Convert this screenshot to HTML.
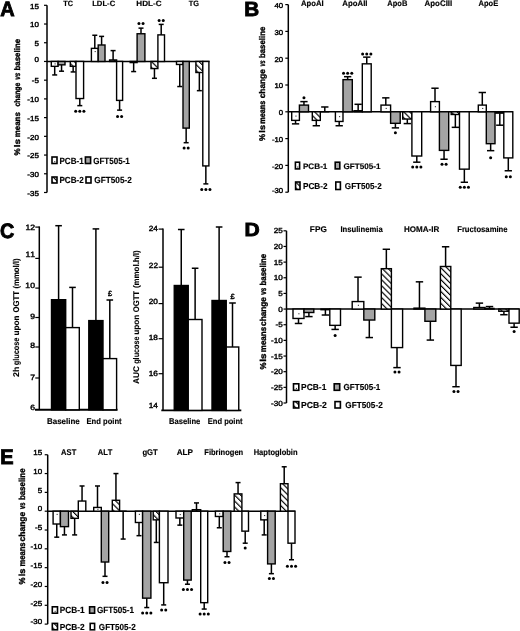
<!DOCTYPE html>
<html><head><meta charset="utf-8"><style>
html,body{margin:0;padding:0;background:#fff;}
body{width:520px;height:631px;overflow:hidden;}
svg{display:block;font-family:"Liberation Sans",sans-serif;font-kerning:none;text-rendering:geometricPrecision;filter:grayscale(1);}
</style></head><body>
<svg width="520" height="631" viewBox="0 0 520 631">
<defs><pattern id="hatch" patternUnits="userSpaceOnUse" width="4.2" height="4.2" patternTransform="rotate(-45)"><rect width="4.2" height="4.2" fill="#fff"/><rect x="0" y="0" width="1.15" height="4.2" fill="#000"/></pattern><pattern id="dots" patternUnits="userSpaceOnUse" x="0.5" y="2.5" width="8" height="8.6"><rect width="8" height="8.6" fill="#fff"/><rect x="3.2" y="0.5" width="1" height="1" fill="#222"/></pattern></defs>
<rect width="520" height="631" fill="#fff"/>
<text x="0.25" y="16.05" font-size="20.79" font-weight="bold" textLength="14.42" lengthAdjust="spacingAndGlyphs" stroke="#000" stroke-width="0.9">A</text>
<line x1="47" y1="5.3" x2="47" y2="192.5" stroke="#000" stroke-width="1.5"/>
<line x1="44" y1="5.3" x2="47" y2="5.3" stroke="#000" stroke-width="1.2"/>
<line x1="44" y1="24.02" x2="47" y2="24.02" stroke="#000" stroke-width="1.2"/>
<line x1="44" y1="42.74" x2="47" y2="42.74" stroke="#000" stroke-width="1.2"/>
<line x1="44" y1="61.46" x2="47" y2="61.46" stroke="#000" stroke-width="1.2"/>
<line x1="44" y1="80.18" x2="47" y2="80.18" stroke="#000" stroke-width="1.2"/>
<line x1="44" y1="98.9" x2="47" y2="98.9" stroke="#000" stroke-width="1.2"/>
<line x1="44" y1="117.62" x2="47" y2="117.62" stroke="#000" stroke-width="1.2"/>
<line x1="44" y1="136.34" x2="47" y2="136.34" stroke="#000" stroke-width="1.2"/>
<line x1="44" y1="155.06" x2="47" y2="155.06" stroke="#000" stroke-width="1.2"/>
<line x1="44" y1="173.78" x2="47" y2="173.78" stroke="#000" stroke-width="1.2"/>
<line x1="44" y1="192.5" x2="47" y2="192.5" stroke="#000" stroke-width="1.2"/>
<line x1="47" y1="61.46" x2="209.5" y2="61.46" stroke="#000" stroke-width="1.4"/>
<text x="38.94" y="8.5" font-size="7.27" font-weight="normal" text-anchor="end" textLength="8.9" lengthAdjust="spacingAndGlyphs" stroke="#000" stroke-width="0.4">15</text>
<text x="38.91" y="27.22" font-size="7.27" font-weight="normal" text-anchor="end" textLength="8.9" lengthAdjust="spacingAndGlyphs" stroke="#000" stroke-width="0.4">10</text>
<text x="38.94" y="45.94" font-size="7.27" font-weight="normal" text-anchor="end" textLength="4.45" lengthAdjust="spacingAndGlyphs" stroke="#000" stroke-width="0.4">5</text>
<text x="38.91" y="62.06" font-size="7.27" font-weight="normal" text-anchor="end" textLength="4.45" lengthAdjust="spacingAndGlyphs" stroke="#000" stroke-width="0.4">0</text>
<text x="38.94" y="83.38" font-size="7.27" font-weight="normal" text-anchor="end" textLength="7.11" lengthAdjust="spacingAndGlyphs" stroke="#000" stroke-width="0.4">-5</text>
<text x="38.91" y="102.1" font-size="7.27" font-weight="normal" text-anchor="end" textLength="11.56" lengthAdjust="spacingAndGlyphs" stroke="#000" stroke-width="0.4">-10</text>
<text x="38.94" y="120.82" font-size="7.27" font-weight="normal" text-anchor="end" textLength="11.56" lengthAdjust="spacingAndGlyphs" stroke="#000" stroke-width="0.4">-15</text>
<text x="38.91" y="139.54" font-size="7.27" font-weight="normal" text-anchor="end" textLength="11.56" lengthAdjust="spacingAndGlyphs" stroke="#000" stroke-width="0.4">-20</text>
<text x="38.94" y="158.26" font-size="7.27" font-weight="normal" text-anchor="end" textLength="11.56" lengthAdjust="spacingAndGlyphs" stroke="#000" stroke-width="0.4">-25</text>
<text x="38.91" y="176.98" font-size="7.27" font-weight="normal" text-anchor="end" textLength="11.56" lengthAdjust="spacingAndGlyphs" stroke="#000" stroke-width="0.4">-30</text>
<text x="38.94" y="195.7" font-size="7.27" font-weight="normal" text-anchor="end" textLength="11.56" lengthAdjust="spacingAndGlyphs" stroke="#000" stroke-width="0.4">-35</text>
<text x="63.22" y="5.5" font-size="7.7" font-weight="bold" textLength="9.78" lengthAdjust="spacingAndGlyphs" stroke="#000" stroke-width="0.15">TC</text>
<text x="92.19" y="5.5" font-size="7.7" font-weight="bold" textLength="23.02" lengthAdjust="spacingAndGlyphs" stroke="#000" stroke-width="0.15">LDL-C</text>
<text x="136.36" y="5.5" font-size="7.7" font-weight="bold" textLength="25.16" lengthAdjust="spacingAndGlyphs" stroke="#000" stroke-width="0.15">HDL-C</text>
<text x="188.72" y="5.5" font-size="7.7" font-weight="bold" textLength="10.24" lengthAdjust="spacingAndGlyphs" stroke="#000" stroke-width="0.15">TG</text>
<line x1="54.7" y1="66.33" x2="54.7" y2="74.94" stroke="#000" stroke-width="1.5"/>
<line x1="52.2" y1="74.94" x2="57.2" y2="74.94" stroke="#000" stroke-width="1.5"/>
<rect x="51.3" y="61.46" width="6.8" height="4.87" fill="#fff" stroke="#000" stroke-width="1.4"/>
<rect x="54.55" y="63.34" width="1.1" height="1.1" fill="#333"/>
<line x1="61.55" y1="64.83" x2="61.55" y2="71.19" stroke="#000" stroke-width="1.5"/>
<line x1="59.05" y1="71.19" x2="64.05" y2="71.19" stroke="#000" stroke-width="1.5"/>
<rect x="58.1" y="61.46" width="6.9" height="3.37" fill="#a4a4a4" stroke="#000" stroke-width="1.4"/>
<line x1="73.15" y1="66.33" x2="73.15" y2="71.94" stroke="#000" stroke-width="1.5"/>
<line x1="70.65" y1="71.94" x2="75.65" y2="71.94" stroke="#000" stroke-width="1.5"/>
<rect x="70.3" y="61.46" width="5.7" height="4.87" fill="url(#hatch)" stroke="#000" stroke-width="1.4"/>
<line x1="79.8" y1="98.53" x2="79.8" y2="105.64" stroke="#000" stroke-width="1.5"/>
<line x1="77.3" y1="105.64" x2="82.3" y2="105.64" stroke="#000" stroke-width="1.5"/>
<rect x="76" y="61.46" width="7.6" height="37.07" fill="#fff" stroke="#000" stroke-width="1.4"/>
<circle cx="75.7" cy="111.3" r="1.5"/>
<circle cx="79.8" cy="111.3" r="1.5"/>
<circle cx="83.9" cy="111.3" r="1.5"/>
<line x1="94.8" y1="48.36" x2="94.8" y2="35.25" stroke="#000" stroke-width="1.5"/>
<line x1="92.3" y1="35.25" x2="97.3" y2="35.25" stroke="#000" stroke-width="1.5"/>
<rect x="91.4" y="48.36" width="6.8" height="13.1" fill="#fff" stroke="#000" stroke-width="1.4"/>
<rect x="94.65" y="51.01" width="1.1" height="1.1" fill="#333"/>
<line x1="101.6" y1="44.99" x2="101.6" y2="36.38" stroke="#000" stroke-width="1.5"/>
<line x1="99.1" y1="36.38" x2="104.1" y2="36.38" stroke="#000" stroke-width="1.5"/>
<rect x="98.2" y="44.99" width="6.8" height="16.47" fill="#a4a4a4" stroke="#000" stroke-width="1.4"/>
<line x1="113.1" y1="59.96" x2="113.1" y2="50.6" stroke="#000" stroke-width="1.5"/>
<line x1="110.6" y1="50.6" x2="115.6" y2="50.6" stroke="#000" stroke-width="1.5"/>
<rect x="109.6" y="59.96" width="7" height="1.5" fill="url(#hatch)" stroke="#000" stroke-width="1.4"/>
<line x1="119.6" y1="100.4" x2="119.6" y2="110.13" stroke="#000" stroke-width="1.5"/>
<line x1="117.1" y1="110.13" x2="122.1" y2="110.13" stroke="#000" stroke-width="1.5"/>
<rect x="116.6" y="61.46" width="6" height="38.94" fill="#fff" stroke="#000" stroke-width="1.4"/>
<circle cx="117.55" cy="116.5" r="1.5"/>
<circle cx="121.65" cy="116.5" r="1.5"/>
<line x1="133.65" y1="62.58" x2="133.65" y2="71.57" stroke="#000" stroke-width="1.5"/>
<line x1="131.15" y1="71.57" x2="136.15" y2="71.57" stroke="#000" stroke-width="1.5"/>
<rect x="130.2" y="61.46" width="6.9" height="1.12" fill="#fff" stroke="#000" stroke-width="1.4"/>
<line x1="141" y1="33.75" x2="141" y2="28.14" stroke="#000" stroke-width="1.5"/>
<line x1="138.5" y1="28.14" x2="143.5" y2="28.14" stroke="#000" stroke-width="1.5"/>
<rect x="137.1" y="33.75" width="7.8" height="27.71" fill="#a4a4a4" stroke="#000" stroke-width="1.4"/>
<circle cx="138.95" cy="23.5" r="1.5"/>
<circle cx="143.05" cy="23.5" r="1.5"/>
<line x1="154.45" y1="68.57" x2="154.45" y2="78.31" stroke="#000" stroke-width="1.5"/>
<line x1="151.95" y1="78.31" x2="156.95" y2="78.31" stroke="#000" stroke-width="1.5"/>
<rect x="151" y="61.46" width="6.9" height="7.11" fill="url(#hatch)" stroke="#000" stroke-width="1.4"/>
<line x1="161.2" y1="34.88" x2="161.2" y2="24.39" stroke="#000" stroke-width="1.5"/>
<line x1="158.7" y1="24.39" x2="163.7" y2="24.39" stroke="#000" stroke-width="1.5"/>
<rect x="157.9" y="34.88" width="6.6" height="26.58" fill="#fff" stroke="#000" stroke-width="1.4"/>
<circle cx="159.15" cy="20.5" r="1.5"/>
<circle cx="163.25" cy="20.5" r="1.5"/>
<line x1="179.75" y1="64.46" x2="179.75" y2="86.54" stroke="#000" stroke-width="1.5"/>
<line x1="177.25" y1="86.54" x2="182.25" y2="86.54" stroke="#000" stroke-width="1.5"/>
<rect x="176.5" y="61.46" width="6.5" height="3" fill="#fff" stroke="#000" stroke-width="1.4"/>
<line x1="186.15" y1="128.1" x2="186.15" y2="142.7" stroke="#000" stroke-width="1.5"/>
<line x1="183.65" y1="142.7" x2="188.65" y2="142.7" stroke="#000" stroke-width="1.5"/>
<rect x="183" y="61.46" width="6.3" height="66.64" fill="#a4a4a4" stroke="#000" stroke-width="1.4"/>
<circle cx="184.1" cy="148" r="1.5"/>
<circle cx="188.2" cy="148" r="1.5"/>
<line x1="199.35" y1="72.5" x2="199.35" y2="90.66" stroke="#000" stroke-width="1.5"/>
<line x1="196.85" y1="90.66" x2="201.85" y2="90.66" stroke="#000" stroke-width="1.5"/>
<rect x="195.9" y="61.46" width="6.9" height="11.04" fill="url(#hatch)" stroke="#000" stroke-width="1.4"/>
<line x1="205.85" y1="165.92" x2="205.85" y2="183.89" stroke="#000" stroke-width="1.5"/>
<line x1="203.35" y1="183.89" x2="208.35" y2="183.89" stroke="#000" stroke-width="1.5"/>
<rect x="202.8" y="61.46" width="6.1" height="104.46" fill="#fff" stroke="#000" stroke-width="1.4"/>
<circle cx="201.75" cy="189.4" r="1.5"/>
<circle cx="205.85" cy="189.4" r="1.5"/>
<circle cx="209.95" cy="189.4" r="1.5"/>
<rect x="52" y="157" width="5" height="6.5" fill="#fff" stroke="#000" stroke-width="1.6"/>
<rect x="54.2" y="161.1" width="1.1" height="1.1" fill="#333"/>
<text x="59.46" y="163.5" font-size="9.02" font-weight="bold" textLength="24.27" lengthAdjust="spacingAndGlyphs" stroke="#000" stroke-width="0.15">PCB-1</text>
<rect x="85.4" y="157" width="5.2" height="6.5" fill="#a4a4a4" stroke="#000" stroke-width="1.6"/>
<text x="93.17" y="163.5" font-size="9.02" font-weight="bold" textLength="36.65" lengthAdjust="spacingAndGlyphs" stroke="#000" stroke-width="0.15">GFT505-1</text>
<rect x="52" y="177" width="5" height="6" fill="url(#hatch)" stroke="#000" stroke-width="1.6"/>
<text x="59.46" y="183" font-size="8.88" font-weight="bold" textLength="24.37" lengthAdjust="spacingAndGlyphs" stroke="#000" stroke-width="0.15">PCB-2</text>
<rect x="86" y="177" width="5" height="6" fill="#fff" stroke="#000" stroke-width="1.6"/>
<text x="94.26" y="183" font-size="8.88" font-weight="bold" textLength="37.57" lengthAdjust="spacingAndGlyphs" stroke="#000" stroke-width="0.15">GFT505-2</text>
<text transform="translate(19.9,155.5) rotate(-90)" x="0" y="0" font-size="8.14" font-weight="bold" textLength="7.11" lengthAdjust="spacingAndGlyphs" stroke="#000" stroke-width="0.35">%</text>
<text transform="translate(19.9,147.2) rotate(-90)" x="0" y="0" font-size="8.14" font-weight="bold" textLength="8.3" lengthAdjust="spacingAndGlyphs" stroke="#000" stroke-width="0.35">ls</text>
<text transform="translate(19.9,137.32) rotate(-90)" x="0" y="0" font-size="8.14" font-weight="bold" textLength="25.15" lengthAdjust="spacingAndGlyphs" stroke="#000" stroke-width="0.35">means</text>
<text transform="translate(19.9,106.57) rotate(-90)" x="0" y="0" font-size="8.14" font-weight="bold" textLength="23.9" lengthAdjust="spacingAndGlyphs" stroke="#000" stroke-width="0.35">change</text>
<text transform="translate(19.9,79.82) rotate(-90)" x="0" y="0" font-size="8.14" font-weight="bold" font-style="italic" textLength="6.98" lengthAdjust="spacingAndGlyphs" stroke="#000" stroke-width="0.35">vs</text>
<text transform="translate(19.9,70.52) rotate(-90)" x="0" y="0" font-size="8.14" font-weight="bold" textLength="31.69" lengthAdjust="spacingAndGlyphs" stroke="#000" stroke-width="0.35">baseline</text>
<text x="244.27" y="15.75" font-size="20.49" font-weight="bold" textLength="14.92" lengthAdjust="spacingAndGlyphs" stroke="#000" stroke-width="0.9">B</text>
<line x1="288.3" y1="4.6" x2="288.3" y2="192.2" stroke="#000" stroke-width="1.5"/>
<line x1="285.3" y1="4.6" x2="288.3" y2="4.6" stroke="#000" stroke-width="1.2"/>
<line x1="285.3" y1="31.4" x2="288.3" y2="31.4" stroke="#000" stroke-width="1.2"/>
<line x1="285.3" y1="58.2" x2="288.3" y2="58.2" stroke="#000" stroke-width="1.2"/>
<line x1="285.3" y1="85" x2="288.3" y2="85" stroke="#000" stroke-width="1.2"/>
<line x1="285.3" y1="111.8" x2="288.3" y2="111.8" stroke="#000" stroke-width="1.2"/>
<line x1="285.3" y1="138.6" x2="288.3" y2="138.6" stroke="#000" stroke-width="1.2"/>
<line x1="285.3" y1="165.4" x2="288.3" y2="165.4" stroke="#000" stroke-width="1.2"/>
<line x1="285.3" y1="192.2" x2="288.3" y2="192.2" stroke="#000" stroke-width="1.2"/>
<line x1="288.3" y1="111.8" x2="512.8" y2="111.8" stroke="#000" stroke-width="1.4"/>
<text x="283.21" y="7.94" font-size="7.1" font-weight="normal" text-anchor="end" textLength="8.69" lengthAdjust="spacingAndGlyphs" stroke="#000" stroke-width="0.4">40</text>
<text x="283.21" y="34.74" font-size="7.1" font-weight="normal" text-anchor="end" textLength="8.69" lengthAdjust="spacingAndGlyphs" stroke="#000" stroke-width="0.4">30</text>
<text x="283.21" y="61.54" font-size="7.1" font-weight="normal" text-anchor="end" textLength="8.69" lengthAdjust="spacingAndGlyphs" stroke="#000" stroke-width="0.4">20</text>
<text x="283.21" y="88.34" font-size="7.1" font-weight="normal" text-anchor="end" textLength="8.69" lengthAdjust="spacingAndGlyphs" stroke="#000" stroke-width="0.4">10</text>
<text x="283.21" y="115.14" font-size="7.1" font-weight="normal" text-anchor="end" textLength="4.34" lengthAdjust="spacingAndGlyphs" stroke="#000" stroke-width="0.4">0</text>
<text x="283.21" y="141.94" font-size="7.1" font-weight="normal" text-anchor="end" textLength="11.29" lengthAdjust="spacingAndGlyphs" stroke="#000" stroke-width="0.4">-10</text>
<text x="283.21" y="168.74" font-size="7.1" font-weight="normal" text-anchor="end" textLength="11.29" lengthAdjust="spacingAndGlyphs" stroke="#000" stroke-width="0.4">-20</text>
<text x="283.21" y="192.74" font-size="7.1" font-weight="normal" text-anchor="end" textLength="11.29" lengthAdjust="spacingAndGlyphs" stroke="#000" stroke-width="0.4">-30</text>
<text x="301.06" y="6.2" font-size="8.14" font-weight="bold" textLength="22.71" lengthAdjust="spacingAndGlyphs" stroke="#000" stroke-width="0.15">ApoAI</text>
<text x="342.31" y="6.2" font-size="8.14" font-weight="bold" textLength="25.22" lengthAdjust="spacingAndGlyphs" stroke="#000" stroke-width="0.15">ApoAII</text>
<text x="387.31" y="6.2" font-size="8.14" font-weight="bold" textLength="20.03" lengthAdjust="spacingAndGlyphs" stroke="#000" stroke-width="0.15">ApoB</text>
<text x="424.6" y="6.2" font-size="8.14" font-weight="bold" textLength="27.62" lengthAdjust="spacingAndGlyphs" stroke="#000" stroke-width="0.15">ApoCIII</text>
<text x="478.51" y="6.2" font-size="8.14" font-weight="bold" textLength="19.68" lengthAdjust="spacingAndGlyphs" stroke="#000" stroke-width="0.15">ApoE</text>
<line x1="295.55" y1="120.38" x2="295.55" y2="123.86" stroke="#000" stroke-width="1.5"/>
<line x1="291.9" y1="123.86" x2="299.2" y2="123.86" stroke="#000" stroke-width="1.5"/>
<rect x="291.7" y="111.8" width="7.7" height="8.58" fill="#fff" stroke="#000" stroke-width="1.4"/>
<rect x="295.4" y="115.54" width="1.1" height="1.1" fill="#333"/>
<line x1="303.95" y1="105.1" x2="303.95" y2="101.62" stroke="#000" stroke-width="1.5"/>
<line x1="300.3" y1="101.62" x2="307.6" y2="101.62" stroke="#000" stroke-width="1.5"/>
<rect x="299.4" y="105.1" width="9.1" height="6.7" fill="#a4a4a4" stroke="#000" stroke-width="1.4"/>
<circle cx="303.95" cy="97.7" r="1.5"/>
<line x1="316.3" y1="120.38" x2="316.3" y2="125.74" stroke="#000" stroke-width="1.5"/>
<line x1="312.65" y1="125.74" x2="319.95" y2="125.74" stroke="#000" stroke-width="1.5"/>
<rect x="312.3" y="111.8" width="8" height="8.58" fill="url(#hatch)" stroke="#000" stroke-width="1.4"/>
<line x1="324.8" y1="111.8" x2="324.8" y2="106.98" stroke="#000" stroke-width="1.5"/>
<line x1="321.15" y1="106.98" x2="328.45" y2="106.98" stroke="#000" stroke-width="1.5"/>
<line x1="320.3" y1="111.8" x2="329.3" y2="111.8" stroke="#000" stroke-width="1.4"/>
<line x1="339.2" y1="121.45" x2="339.2" y2="125.74" stroke="#000" stroke-width="1.5"/>
<line x1="335.55" y1="125.74" x2="342.85" y2="125.74" stroke="#000" stroke-width="1.5"/>
<rect x="335.4" y="111.8" width="7.6" height="9.65" fill="#fff" stroke="#000" stroke-width="1.4"/>
<rect x="339.05" y="116.07" width="1.1" height="1.1" fill="#333"/>
<line x1="347.65" y1="79.64" x2="347.65" y2="76.69" stroke="#000" stroke-width="1.5"/>
<line x1="344" y1="76.69" x2="351.3" y2="76.69" stroke="#000" stroke-width="1.5"/>
<rect x="343" y="79.64" width="9.3" height="32.16" fill="#a4a4a4" stroke="#000" stroke-width="1.4"/>
<circle cx="343.55" cy="73.3" r="1.5"/>
<circle cx="347.65" cy="73.3" r="1.5"/>
<circle cx="351.75" cy="73.3" r="1.5"/>
<line x1="358.15" y1="110.73" x2="358.15" y2="104.3" stroke="#000" stroke-width="1.5"/>
<line x1="354.5" y1="104.3" x2="361.8" y2="104.3" stroke="#000" stroke-width="1.5"/>
<rect x="354" y="110.73" width="8.3" height="1.07" fill="url(#hatch)" stroke="#000" stroke-width="1.4"/>
<line x1="366.75" y1="63.83" x2="366.75" y2="57.13" stroke="#000" stroke-width="1.5"/>
<line x1="363.1" y1="57.13" x2="370.4" y2="57.13" stroke="#000" stroke-width="1.5"/>
<rect x="362.3" y="63.83" width="8.9" height="47.97" fill="#fff" stroke="#000" stroke-width="1.4"/>
<circle cx="362.65" cy="54" r="1.5"/>
<circle cx="366.75" cy="54" r="1.5"/>
<circle cx="370.85" cy="54" r="1.5"/>
<line x1="385.8" y1="105.1" x2="385.8" y2="97.86" stroke="#000" stroke-width="1.5"/>
<line x1="382.15" y1="97.86" x2="389.45" y2="97.86" stroke="#000" stroke-width="1.5"/>
<rect x="381" y="105.1" width="9.6" height="6.7" fill="#fff" stroke="#000" stroke-width="1.4"/>
<rect x="385.65" y="107.9" width="1.1" height="1.1" fill="#333"/>
<line x1="395.4" y1="123.32" x2="395.4" y2="127.88" stroke="#000" stroke-width="1.5"/>
<line x1="391.75" y1="127.88" x2="399.05" y2="127.88" stroke="#000" stroke-width="1.5"/>
<rect x="390.6" y="111.8" width="9.6" height="11.52" fill="#a4a4a4" stroke="#000" stroke-width="1.4"/>
<circle cx="395.4" cy="132.7" r="1.5"/>
<line x1="407.3" y1="119.04" x2="407.3" y2="123.59" stroke="#000" stroke-width="1.5"/>
<line x1="403.65" y1="123.59" x2="410.95" y2="123.59" stroke="#000" stroke-width="1.5"/>
<rect x="402.7" y="111.8" width="9.2" height="7.24" fill="url(#hatch)" stroke="#000" stroke-width="1.4"/>
<line x1="416.8" y1="156.02" x2="416.8" y2="162.18" stroke="#000" stroke-width="1.5"/>
<line x1="413.15" y1="162.18" x2="420.45" y2="162.18" stroke="#000" stroke-width="1.5"/>
<rect x="411.9" y="111.8" width="9.8" height="44.22" fill="#fff" stroke="#000" stroke-width="1.4"/>
<circle cx="412.7" cy="166.9" r="1.5"/>
<circle cx="416.8" cy="166.9" r="1.5"/>
<circle cx="420.9" cy="166.9" r="1.5"/>
<line x1="435" y1="101.62" x2="435" y2="88.22" stroke="#000" stroke-width="1.5"/>
<line x1="431.35" y1="88.22" x2="438.65" y2="88.22" stroke="#000" stroke-width="1.5"/>
<rect x="430.6" y="101.62" width="8.8" height="10.18" fill="#fff" stroke="#000" stroke-width="1.4"/>
<rect x="434.85" y="106.16" width="1.1" height="1.1" fill="#333"/>
<line x1="444.05" y1="150.39" x2="444.05" y2="159.24" stroke="#000" stroke-width="1.5"/>
<line x1="440.4" y1="159.24" x2="447.7" y2="159.24" stroke="#000" stroke-width="1.5"/>
<rect x="439.4" y="111.8" width="9.3" height="38.59" fill="#a4a4a4" stroke="#000" stroke-width="1.4"/>
<circle cx="442" cy="164.2" r="1.5"/>
<circle cx="446.1" cy="164.2" r="1.5"/>
<line x1="455.35" y1="114.48" x2="455.35" y2="127.34" stroke="#000" stroke-width="1.5"/>
<line x1="451.7" y1="127.34" x2="459" y2="127.34" stroke="#000" stroke-width="1.5"/>
<rect x="451.2" y="111.8" width="8.3" height="2.68" fill="url(#hatch)" stroke="#000" stroke-width="1.4"/>
<line x1="464.35" y1="169.15" x2="464.35" y2="182.28" stroke="#000" stroke-width="1.5"/>
<line x1="460.7" y1="182.28" x2="468" y2="182.28" stroke="#000" stroke-width="1.5"/>
<rect x="459.5" y="111.8" width="9.7" height="57.35" fill="#fff" stroke="#000" stroke-width="1.4"/>
<circle cx="460.25" cy="187.2" r="1.5"/>
<circle cx="464.35" cy="187.2" r="1.5"/>
<circle cx="468.45" cy="187.2" r="1.5"/>
<line x1="482.3" y1="105.1" x2="482.3" y2="92.5" stroke="#000" stroke-width="1.5"/>
<line x1="478.65" y1="92.5" x2="485.95" y2="92.5" stroke="#000" stroke-width="1.5"/>
<rect x="478.3" y="105.1" width="8" height="6.7" fill="#fff" stroke="#000" stroke-width="1.4"/>
<rect x="482.15" y="107.9" width="1.1" height="1.1" fill="#333"/>
<line x1="490.65" y1="143.69" x2="490.65" y2="150.66" stroke="#000" stroke-width="1.5"/>
<line x1="487" y1="150.66" x2="494.3" y2="150.66" stroke="#000" stroke-width="1.5"/>
<rect x="486.3" y="111.8" width="8.7" height="31.89" fill="#a4a4a4" stroke="#000" stroke-width="1.4"/>
<circle cx="490.65" cy="157.7" r="1.5"/>
<line x1="499.8" y1="113.14" x2="499.8" y2="125.2" stroke="#000" stroke-width="1.5"/>
<line x1="496.15" y1="125.2" x2="503.45" y2="125.2" stroke="#000" stroke-width="1.5"/>
<rect x="495.8" y="111.8" width="8" height="1.34" fill="url(#hatch)" stroke="#000" stroke-width="1.4"/>
<line x1="508.3" y1="157.9" x2="508.3" y2="170.76" stroke="#000" stroke-width="1.5"/>
<line x1="504.65" y1="170.76" x2="511.95" y2="170.76" stroke="#000" stroke-width="1.5"/>
<rect x="503.8" y="111.8" width="9" height="46.1" fill="#fff" stroke="#000" stroke-width="1.4"/>
<circle cx="506.25" cy="176.8" r="1.5"/>
<circle cx="510.35" cy="176.8" r="1.5"/>
<rect x="295.4" y="162.2" width="4.2" height="6.7" fill="#fff" stroke="#000" stroke-width="1.6"/>
<rect x="297.2" y="166.5" width="1.1" height="1.1" fill="#333"/>
<text x="302.95" y="168.5" font-size="8.02" font-weight="bold" textLength="24.47" lengthAdjust="spacingAndGlyphs" stroke="#000" stroke-width="0.15">PCB-1</text>
<rect x="335.2" y="162.2" width="4.6" height="6.7" fill="#a4a4a4" stroke="#000" stroke-width="1.6"/>
<text x="343.57" y="168.5" font-size="8.02" font-weight="bold" textLength="36.86" lengthAdjust="spacingAndGlyphs" stroke="#000" stroke-width="0.15">GFT505-1</text>
<rect x="295.6" y="182" width="4.4" height="7.5" fill="url(#hatch)" stroke="#000" stroke-width="1.6"/>
<text x="302.95" y="188.5" font-size="8.59" font-weight="bold" textLength="24.58" lengthAdjust="spacingAndGlyphs" stroke="#000" stroke-width="0.15">PCB-2</text>
<rect x="335.8" y="182" width="4.6" height="7.5" fill="#fff" stroke="#000" stroke-width="1.6"/>
<text x="344.87" y="188.5" font-size="8.59" font-weight="bold" textLength="36.96" lengthAdjust="spacingAndGlyphs" stroke="#000" stroke-width="0.15">GFT505-2</text>
<text transform="translate(264.8,140.9) rotate(-90)" x="0" y="0" font-size="8.28" font-weight="bold" textLength="7.11" lengthAdjust="spacingAndGlyphs" stroke="#000" stroke-width="0.35">%</text>
<text transform="translate(264.8,132.65) rotate(-90)" x="0" y="0" font-size="8.28" font-weight="bold" textLength="7.73" lengthAdjust="spacingAndGlyphs" stroke="#000" stroke-width="0.35">ls</text>
<text transform="translate(264.8,123.68) rotate(-90)" x="0" y="0" font-size="8.28" font-weight="bold" textLength="22.87" lengthAdjust="spacingAndGlyphs" stroke="#000" stroke-width="0.35">means</text>
<text transform="translate(264.8,98.32) rotate(-90)" x="0" y="0" font-size="8.28" font-weight="bold" textLength="29.11" lengthAdjust="spacingAndGlyphs" stroke="#000" stroke-width="0.35">change</text>
<text transform="translate(264.8,66.52) rotate(-90)" x="0" y="0" font-size="8.28" font-weight="bold" font-style="italic" textLength="6.25" lengthAdjust="spacingAndGlyphs" stroke="#000" stroke-width="0.35">vs</text>
<text transform="translate(264.8,58.02) rotate(-90)" x="0" y="0" font-size="8.28" font-weight="bold" textLength="31.28" lengthAdjust="spacingAndGlyphs" stroke="#000" stroke-width="0.35">baseline</text>
<text x="-0.06" y="238.45" font-size="20.77" font-weight="bold" textLength="14.25" lengthAdjust="spacingAndGlyphs" stroke="#000" stroke-width="0.9">C</text>
<line x1="39.3" y1="226.4" x2="39.3" y2="409.8" stroke="#000" stroke-width="1.5"/>
<line x1="35.3" y1="227.1" x2="39.3" y2="227.1" stroke="#000" stroke-width="1.2"/>
<line x1="35.3" y1="258.4" x2="39.3" y2="258.4" stroke="#000" stroke-width="1.2"/>
<line x1="35.3" y1="288.1" x2="39.3" y2="288.1" stroke="#000" stroke-width="1.2"/>
<line x1="35.3" y1="317.5" x2="39.3" y2="317.5" stroke="#000" stroke-width="1.2"/>
<line x1="35.3" y1="347" x2="39.3" y2="347" stroke="#000" stroke-width="1.2"/>
<line x1="35.3" y1="378" x2="39.3" y2="378" stroke="#000" stroke-width="1.2"/>
<line x1="35" y1="409.8" x2="117.5" y2="409.8" stroke="#000" stroke-width="1.9"/>
<text x="35.03" y="229.75" font-size="7.7" font-weight="normal" text-anchor="end" textLength="9.59" lengthAdjust="spacingAndGlyphs" stroke="#000" stroke-width="0.4">12</text>
<text x="35.02" y="257.15" font-size="7.7" font-weight="normal" text-anchor="end" textLength="9.59" lengthAdjust="spacingAndGlyphs" stroke="#000" stroke-width="0.4">11</text>
<text x="34.94" y="287.95" font-size="7.7" font-weight="normal" text-anchor="end" textLength="9.59" lengthAdjust="spacingAndGlyphs" stroke="#000" stroke-width="0.4">10</text>
<text x="35.01" y="318.85" font-size="7.7" font-weight="normal" text-anchor="end" textLength="4.8" lengthAdjust="spacingAndGlyphs" stroke="#000" stroke-width="0.4">9</text>
<text x="34.97" y="348.05" font-size="7.7" font-weight="normal" text-anchor="end" textLength="4.8" lengthAdjust="spacingAndGlyphs" stroke="#000" stroke-width="0.4">8</text>
<text x="35.03" y="379.65" font-size="7.7" font-weight="normal" text-anchor="end" textLength="4.8" lengthAdjust="spacingAndGlyphs" stroke="#000" stroke-width="0.4">7</text>
<text x="34.98" y="409.95" font-size="7.7" font-weight="normal" text-anchor="end" textLength="4.8" lengthAdjust="spacingAndGlyphs" stroke="#000" stroke-width="0.4">6</text>
<line x1="58.6" y1="299.7" x2="58.6" y2="225.7" stroke="#000" stroke-width="1.5"/>
<line x1="55.3" y1="225.7" x2="61.9" y2="225.7" stroke="#000" stroke-width="1.5"/>
<rect x="51.5" y="299.7" width="14.2" height="110.1" fill="#000" stroke="#000" stroke-width="1.4"/>
<line x1="72.5" y1="327.6" x2="72.5" y2="287.4" stroke="#000" stroke-width="1.5"/>
<line x1="69.2" y1="287.4" x2="75.8" y2="287.4" stroke="#000" stroke-width="1.5"/>
<rect x="65.7" y="327.6" width="13.6" height="82.2" fill="#fff" stroke="#000" stroke-width="1.4"/>
<line x1="95.9" y1="320.6" x2="95.9" y2="228.9" stroke="#000" stroke-width="1.5"/>
<line x1="92.6" y1="228.9" x2="99.2" y2="228.9" stroke="#000" stroke-width="1.5"/>
<rect x="88.8" y="320.6" width="14.2" height="89.2" fill="#000" stroke="#000" stroke-width="1.4"/>
<line x1="109.8" y1="358.6" x2="109.8" y2="300" stroke="#000" stroke-width="1.5"/>
<line x1="106.5" y1="300" x2="113.1" y2="300" stroke="#000" stroke-width="1.5"/>
<rect x="103" y="358.6" width="13.6" height="51.2" fill="#fff" stroke="#000" stroke-width="1.4"/>
<text x="107.92" y="295.9" font-size="7.59" font-weight="bold" textLength="4.15" lengthAdjust="spacingAndGlyphs" stroke="#000" stroke-width="0.3">£</text>
<text x="46.97" y="423.6" font-size="8.28" font-weight="bold" textLength="32.81" lengthAdjust="spacingAndGlyphs" stroke="#000" stroke-width="0.15">Baseline</text>
<text x="86.49" y="423.6" font-size="8.28" font-weight="bold" textLength="35.1" lengthAdjust="spacingAndGlyphs" stroke="#000" stroke-width="0.15">End point</text>
<text transform="translate(19.3,377.01) rotate(-90)" x="0" y="0" font-size="8.42" font-weight="bold" textLength="10.36" lengthAdjust="spacingAndGlyphs" stroke="#000" stroke-width="0.1">2h</text>
<text transform="translate(19.3,365.3) rotate(-90)" x="0" y="0" font-size="8.42" font-weight="bold" textLength="27.75" lengthAdjust="spacingAndGlyphs" stroke="#000" stroke-width="0.1">glucose</text>
<text transform="translate(19.3,335.51) rotate(-90)" x="0" y="0" font-size="8.42" font-weight="bold" textLength="19.91" lengthAdjust="spacingAndGlyphs" stroke="#000" stroke-width="0.1">upon</text>
<text transform="translate(19.3,312.52) rotate(-90)" x="0" y="0" font-size="8.42" font-weight="bold" textLength="21.4" lengthAdjust="spacingAndGlyphs" stroke="#000" stroke-width="0.1">OGTT</text>
<text transform="translate(19.3,288.49) rotate(-90)" x="0" y="0" font-size="8.42" font-weight="bold" textLength="30.07" lengthAdjust="spacingAndGlyphs" stroke="#000" stroke-width="0.1">(mmol/l)</text>
<line x1="163" y1="228.4" x2="163" y2="410.4" stroke="#000" stroke-width="1.5"/>
<line x1="158.6" y1="229.1" x2="163" y2="229.1" stroke="#000" stroke-width="1.2"/>
<line x1="158.6" y1="267.2" x2="163" y2="267.2" stroke="#000" stroke-width="1.2"/>
<line x1="158.6" y1="303.6" x2="163" y2="303.6" stroke="#000" stroke-width="1.2"/>
<line x1="158.6" y1="338.7" x2="163" y2="338.7" stroke="#000" stroke-width="1.2"/>
<line x1="158.6" y1="373.7" x2="163" y2="373.7" stroke="#000" stroke-width="1.2"/>
<line x1="161.3" y1="410.4" x2="241.3" y2="410.4" stroke="#000" stroke-width="1.9"/>
<text x="157.84" y="231.18" font-size="7.5" font-weight="normal" text-anchor="end" textLength="9.18" lengthAdjust="spacingAndGlyphs" stroke="#000" stroke-width="0.4">24</text>
<text x="158.01" y="268.48" font-size="7.5" font-weight="normal" text-anchor="end" textLength="9.18" lengthAdjust="spacingAndGlyphs" stroke="#000" stroke-width="0.4">22</text>
<text x="157.92" y="304.38" font-size="7.5" font-weight="normal" text-anchor="end" textLength="9.18" lengthAdjust="spacingAndGlyphs" stroke="#000" stroke-width="0.4">20</text>
<text x="157.96" y="340.28" font-size="7.5" font-weight="normal" text-anchor="end" textLength="9.18" lengthAdjust="spacingAndGlyphs" stroke="#000" stroke-width="0.4">18</text>
<text x="157.96" y="375.58" font-size="7.5" font-weight="normal" text-anchor="end" textLength="9.18" lengthAdjust="spacingAndGlyphs" stroke="#000" stroke-width="0.4">16</text>
<text x="157.84" y="407.58" font-size="7.5" font-weight="normal" text-anchor="end" textLength="9.18" lengthAdjust="spacingAndGlyphs" stroke="#000" stroke-width="0.4">14</text>
<line x1="181.25" y1="285.5" x2="181.25" y2="229.5" stroke="#000" stroke-width="1.5"/>
<line x1="177.95" y1="229.5" x2="184.55" y2="229.5" stroke="#000" stroke-width="1.5"/>
<rect x="174.25" y="285.5" width="14" height="124.9" fill="#000" stroke="#000" stroke-width="1.4"/>
<line x1="195.12" y1="319.5" x2="195.12" y2="268.25" stroke="#000" stroke-width="1.5"/>
<line x1="191.82" y1="268.25" x2="198.43" y2="268.25" stroke="#000" stroke-width="1.5"/>
<rect x="188.25" y="319.5" width="13.75" height="90.9" fill="#fff" stroke="#000" stroke-width="1.4"/>
<line x1="219.12" y1="300.5" x2="219.12" y2="227" stroke="#000" stroke-width="1.5"/>
<line x1="215.82" y1="227" x2="222.43" y2="227" stroke="#000" stroke-width="1.5"/>
<rect x="212" y="300.5" width="14.25" height="109.9" fill="#000" stroke="#000" stroke-width="1.4"/>
<line x1="232.5" y1="347" x2="232.5" y2="303" stroke="#000" stroke-width="1.5"/>
<line x1="229.2" y1="303" x2="235.8" y2="303" stroke="#000" stroke-width="1.5"/>
<rect x="226.25" y="347" width="12.5" height="63.4" fill="#fff" stroke="#000" stroke-width="1.4"/>
<text x="230.52" y="298.8" font-size="7.59" font-weight="bold" textLength="4.26" lengthAdjust="spacingAndGlyphs" stroke="#000" stroke-width="0.3">£</text>
<text x="168.99" y="423.6" font-size="8.28" font-weight="bold" textLength="31.27" lengthAdjust="spacingAndGlyphs" stroke="#000" stroke-width="0.15">Baseline</text>
<text x="207.8" y="423.6" font-size="8.28" font-weight="bold" textLength="34.8" lengthAdjust="spacingAndGlyphs" stroke="#000" stroke-width="0.15">End point</text>
<text transform="translate(139.3,383.9) rotate(-90)" x="0" y="0" font-size="8.28" font-weight="bold" textLength="17.83" lengthAdjust="spacingAndGlyphs" stroke="#000" stroke-width="0.1">AUC</text>
<text transform="translate(139.3,363.8) rotate(-90)" x="0" y="0" font-size="8.28" font-weight="bold" textLength="27.34" lengthAdjust="spacingAndGlyphs" stroke="#000" stroke-width="0.1">glucose</text>
<text transform="translate(139.3,334.71) rotate(-90)" x="0" y="0" font-size="8.28" font-weight="bold" textLength="20.02" lengthAdjust="spacingAndGlyphs" stroke="#000" stroke-width="0.1">upon</text>
<text transform="translate(139.3,312.32) rotate(-90)" x="0" y="0" font-size="8.28" font-weight="bold" textLength="21.4" lengthAdjust="spacingAndGlyphs" stroke="#000" stroke-width="0.1">OGTT</text>
<text transform="translate(139.3,288.09) rotate(-90)" x="0" y="0" font-size="8.28" font-weight="bold" textLength="37.79" lengthAdjust="spacingAndGlyphs" stroke="#000" stroke-width="0.1">(mmol.h/l)</text>
<text x="244.44" y="236.45" font-size="18.9" font-weight="bold" textLength="15.19" lengthAdjust="spacingAndGlyphs" stroke="#000" stroke-width="0.9">D</text>
<line x1="286.5" y1="230.8" x2="286.5" y2="403" stroke="#000" stroke-width="1.5"/>
<line x1="283.5" y1="230.8" x2="286.5" y2="230.8" stroke="#000" stroke-width="1.2"/>
<line x1="283.5" y1="246.45" x2="286.5" y2="246.45" stroke="#000" stroke-width="1.2"/>
<line x1="283.5" y1="262.11" x2="286.5" y2="262.11" stroke="#000" stroke-width="1.2"/>
<line x1="283.5" y1="277.76" x2="286.5" y2="277.76" stroke="#000" stroke-width="1.2"/>
<line x1="283.5" y1="293.42" x2="286.5" y2="293.42" stroke="#000" stroke-width="1.2"/>
<line x1="283.5" y1="309.07" x2="286.5" y2="309.07" stroke="#000" stroke-width="1.2"/>
<line x1="283.5" y1="324.73" x2="286.5" y2="324.73" stroke="#000" stroke-width="1.2"/>
<line x1="283.5" y1="340.38" x2="286.5" y2="340.38" stroke="#000" stroke-width="1.2"/>
<line x1="283.5" y1="356.04" x2="286.5" y2="356.04" stroke="#000" stroke-width="1.2"/>
<line x1="283.5" y1="371.69" x2="286.5" y2="371.69" stroke="#000" stroke-width="1.2"/>
<line x1="283.5" y1="387.35" x2="286.5" y2="387.35" stroke="#000" stroke-width="1.2"/>
<line x1="283.5" y1="403" x2="286.5" y2="403" stroke="#000" stroke-width="1.2"/>
<line x1="286.5" y1="309.07" x2="519.5" y2="309.07" stroke="#000" stroke-width="1.4"/>
<text x="282.74" y="233.35" font-size="7.4" font-weight="normal" text-anchor="end" textLength="9.05" lengthAdjust="spacingAndGlyphs" stroke="#000" stroke-width="0.4">25</text>
<text x="282.72" y="249" font-size="7.4" font-weight="normal" text-anchor="end" textLength="9.05" lengthAdjust="spacingAndGlyphs" stroke="#000" stroke-width="0.4">20</text>
<text x="282.74" y="264.65" font-size="7.4" font-weight="normal" text-anchor="end" textLength="9.05" lengthAdjust="spacingAndGlyphs" stroke="#000" stroke-width="0.4">15</text>
<text x="282.72" y="280.31" font-size="7.4" font-weight="normal" text-anchor="end" textLength="9.05" lengthAdjust="spacingAndGlyphs" stroke="#000" stroke-width="0.4">10</text>
<text x="282.74" y="295.96" font-size="7.4" font-weight="normal" text-anchor="end" textLength="4.53" lengthAdjust="spacingAndGlyphs" stroke="#000" stroke-width="0.4">5</text>
<text x="282.72" y="311.62" font-size="7.4" font-weight="normal" text-anchor="end" textLength="4.53" lengthAdjust="spacingAndGlyphs" stroke="#000" stroke-width="0.4">0</text>
<text x="282.74" y="327.27" font-size="7.4" font-weight="normal" text-anchor="end" textLength="7.24" lengthAdjust="spacingAndGlyphs" stroke="#000" stroke-width="0.4">-5</text>
<text x="282.72" y="342.93" font-size="7.4" font-weight="normal" text-anchor="end" textLength="11.76" lengthAdjust="spacingAndGlyphs" stroke="#000" stroke-width="0.4">-10</text>
<text x="282.74" y="358.58" font-size="7.4" font-weight="normal" text-anchor="end" textLength="11.76" lengthAdjust="spacingAndGlyphs" stroke="#000" stroke-width="0.4">-15</text>
<text x="282.72" y="374.24" font-size="7.4" font-weight="normal" text-anchor="end" textLength="11.76" lengthAdjust="spacingAndGlyphs" stroke="#000" stroke-width="0.4">-20</text>
<text x="282.74" y="389.89" font-size="7.4" font-weight="normal" text-anchor="end" textLength="11.76" lengthAdjust="spacingAndGlyphs" stroke="#000" stroke-width="0.4">-25</text>
<text x="282.72" y="405.55" font-size="7.4" font-weight="normal" text-anchor="end" textLength="11.76" lengthAdjust="spacingAndGlyphs" stroke="#000" stroke-width="0.4">-30</text>
<text x="309.85" y="232.2" font-size="8.29" font-weight="bold" textLength="16.96" lengthAdjust="spacingAndGlyphs" stroke="#000" stroke-width="0.15">FPG</text>
<text x="340.49" y="232.2" font-size="8.29" font-weight="bold" textLength="42.16" lengthAdjust="spacingAndGlyphs" stroke="#000" stroke-width="0.15">Insulinemia</text>
<text x="404.06" y="232.2" font-size="8.29" font-weight="bold" textLength="35.3" lengthAdjust="spacingAndGlyphs" stroke="#000" stroke-width="0.15">HOMA-IR</text>
<text x="457.19" y="232.2" font-size="8.29" font-weight="bold" textLength="50.38" lengthAdjust="spacingAndGlyphs" stroke="#000" stroke-width="0.15">Fructosamine</text>
<line x1="298.5" y1="318.47" x2="298.5" y2="323.47" stroke="#000" stroke-width="1.5"/>
<line x1="294.8" y1="323.47" x2="302.2" y2="323.47" stroke="#000" stroke-width="1.5"/>
<rect x="293" y="309.07" width="11" height="9.39" fill="#fff" stroke="#000" stroke-width="1.4"/>
<rect x="298.35" y="313.22" width="1.1" height="1.1" fill="#333"/>
<line x1="308.9" y1="312.52" x2="308.9" y2="316.59" stroke="#000" stroke-width="1.5"/>
<line x1="305.2" y1="316.59" x2="312.6" y2="316.59" stroke="#000" stroke-width="1.5"/>
<rect x="304" y="309.07" width="9.8" height="3.44" fill="#a4a4a4" stroke="#000" stroke-width="1.4"/>
<line x1="325.4" y1="309.7" x2="325.4" y2="315.02" stroke="#000" stroke-width="1.5"/>
<line x1="321.7" y1="315.02" x2="329.1" y2="315.02" stroke="#000" stroke-width="1.5"/>
<rect x="321" y="309.07" width="8.8" height="0.63" fill="url(#hatch)" stroke="#000" stroke-width="1.4"/>
<line x1="335.15" y1="325.35" x2="335.15" y2="329.42" stroke="#000" stroke-width="1.5"/>
<line x1="331.45" y1="329.42" x2="338.85" y2="329.42" stroke="#000" stroke-width="1.5"/>
<rect x="329.8" y="309.07" width="10.7" height="16.28" fill="#fff" stroke="#000" stroke-width="1.4"/>
<circle cx="335.15" cy="335.5" r="1.5"/>
<line x1="358" y1="301.56" x2="358" y2="277.14" stroke="#000" stroke-width="1.5"/>
<line x1="354.3" y1="277.14" x2="361.7" y2="277.14" stroke="#000" stroke-width="1.5"/>
<rect x="352.2" y="301.56" width="11.6" height="7.51" fill="#fff" stroke="#000" stroke-width="1.4"/>
<rect x="357.85" y="304.77" width="1.1" height="1.1" fill="#333"/>
<line x1="369.3" y1="320.03" x2="369.3" y2="337.56" stroke="#000" stroke-width="1.5"/>
<line x1="365.6" y1="337.56" x2="373" y2="337.56" stroke="#000" stroke-width="1.5"/>
<rect x="363.8" y="309.07" width="11" height="10.96" fill="#a4a4a4" stroke="#000" stroke-width="1.4"/>
<line x1="386.35" y1="268.68" x2="386.35" y2="249.27" stroke="#000" stroke-width="1.5"/>
<line x1="382.65" y1="249.27" x2="390.05" y2="249.27" stroke="#000" stroke-width="1.5"/>
<rect x="381.3" y="268.68" width="10.1" height="40.39" fill="url(#hatch)" stroke="#000" stroke-width="1.4"/>
<line x1="397" y1="347.58" x2="397" y2="367.62" stroke="#000" stroke-width="1.5"/>
<line x1="393.3" y1="367.62" x2="400.7" y2="367.62" stroke="#000" stroke-width="1.5"/>
<rect x="391.4" y="309.07" width="11.2" height="38.51" fill="#fff" stroke="#000" stroke-width="1.4"/>
<circle cx="394.95" cy="372" r="1.5"/>
<circle cx="399.05" cy="372" r="1.5"/>
<line x1="419.45" y1="308.13" x2="419.45" y2="281.83" stroke="#000" stroke-width="1.5"/>
<line x1="415.75" y1="281.83" x2="423.15" y2="281.83" stroke="#000" stroke-width="1.5"/>
<rect x="414" y="308.13" width="10.9" height="0.94" fill="#fff" stroke="#000" stroke-width="1.4"/>
<line x1="430.35" y1="321.28" x2="430.35" y2="340.07" stroke="#000" stroke-width="1.5"/>
<line x1="426.65" y1="340.07" x2="434.05" y2="340.07" stroke="#000" stroke-width="1.5"/>
<rect x="424.9" y="309.07" width="10.9" height="12.21" fill="#a4a4a4" stroke="#000" stroke-width="1.4"/>
<line x1="445.6" y1="266.49" x2="445.6" y2="246.77" stroke="#000" stroke-width="1.5"/>
<line x1="441.9" y1="246.77" x2="449.3" y2="246.77" stroke="#000" stroke-width="1.5"/>
<rect x="440.4" y="266.49" width="10.4" height="42.58" fill="url(#hatch)" stroke="#000" stroke-width="1.4"/>
<line x1="456" y1="365.43" x2="456" y2="386.72" stroke="#000" stroke-width="1.5"/>
<line x1="452.3" y1="386.72" x2="459.7" y2="386.72" stroke="#000" stroke-width="1.5"/>
<rect x="450.8" y="309.07" width="10.4" height="56.36" fill="#fff" stroke="#000" stroke-width="1.4"/>
<circle cx="453.95" cy="391.6" r="1.5"/>
<circle cx="458.05" cy="391.6" r="1.5"/>
<line x1="479.4" y1="307.51" x2="479.4" y2="303.12" stroke="#000" stroke-width="1.5"/>
<line x1="475.7" y1="303.12" x2="483.1" y2="303.12" stroke="#000" stroke-width="1.5"/>
<rect x="473.8" y="307.51" width="11.2" height="1.57" fill="#fff" stroke="#000" stroke-width="1.4"/>
<line x1="489.5" y1="308.45" x2="489.5" y2="306.57" stroke="#000" stroke-width="1.5"/>
<line x1="485.8" y1="306.57" x2="493.2" y2="306.57" stroke="#000" stroke-width="1.5"/>
<rect x="485" y="308.45" width="9" height="0.63" fill="#a4a4a4" stroke="#000" stroke-width="1.4"/>
<line x1="503.9" y1="311.26" x2="503.9" y2="314.71" stroke="#000" stroke-width="1.5"/>
<line x1="500.2" y1="314.71" x2="507.6" y2="314.71" stroke="#000" stroke-width="1.5"/>
<rect x="498.8" y="309.07" width="10.2" height="2.19" fill="url(#hatch)" stroke="#000" stroke-width="1.4"/>
<line x1="514.1" y1="323.16" x2="514.1" y2="327.23" stroke="#000" stroke-width="1.5"/>
<line x1="510.4" y1="327.23" x2="517.8" y2="327.23" stroke="#000" stroke-width="1.5"/>
<rect x="509" y="309.07" width="10.2" height="14.09" fill="#fff" stroke="#000" stroke-width="1.4"/>
<circle cx="514.1" cy="331.5" r="1.5"/>
<rect x="293.5" y="383.8" width="5.3" height="6.5" fill="#fff" stroke="#000" stroke-width="1.6"/>
<rect x="295.85" y="387.9" width="1.1" height="1.1" fill="#333"/>
<text x="301.04" y="390.3" font-size="8.74" font-weight="bold" textLength="25.3" lengthAdjust="spacingAndGlyphs" stroke="#000" stroke-width="0.15">PCB-1</text>
<rect x="334.2" y="383.8" width="5.5" height="6.5" fill="#a4a4a4" stroke="#000" stroke-width="1.6"/>
<text x="343.47" y="390.3" font-size="8.74" font-weight="bold" textLength="36.86" lengthAdjust="spacingAndGlyphs" stroke="#000" stroke-width="0.15">GFT505-1</text>
<rect x="293.5" y="401.6" width="5.3" height="6.4" fill="url(#hatch)" stroke="#000" stroke-width="1.6"/>
<text x="301.02" y="408" font-size="8.74" font-weight="bold" textLength="25.82" lengthAdjust="spacingAndGlyphs" stroke="#000" stroke-width="0.15">PCB-2</text>
<rect x="335" y="401.6" width="5.4" height="6.4" fill="#fff" stroke="#000" stroke-width="1.6"/>
<text x="345.36" y="408" font-size="8.74" font-weight="bold" textLength="37.36" lengthAdjust="spacingAndGlyphs" stroke="#000" stroke-width="0.15">GFT505-2</text>
<text transform="translate(265.6,369.6) rotate(-90)" x="0" y="0" font-size="8.56" font-weight="bold" textLength="7" lengthAdjust="spacingAndGlyphs" stroke="#000" stroke-width="0.35">%</text>
<text transform="translate(265.6,361.8) rotate(-90)" x="0" y="0" font-size="8.56" font-weight="bold" textLength="8.3" lengthAdjust="spacingAndGlyphs" stroke="#000" stroke-width="0.35">ls</text>
<text transform="translate(265.6,352.23) rotate(-90)" x="0" y="0" font-size="8.56" font-weight="bold" textLength="25.36" lengthAdjust="spacingAndGlyphs" stroke="#000" stroke-width="0.35">means</text>
<text transform="translate(265.6,325.92) rotate(-90)" x="0" y="0" font-size="8.56" font-weight="bold" textLength="28.8" lengthAdjust="spacingAndGlyphs" stroke="#000" stroke-width="0.35">change</text>
<text transform="translate(265.6,294.82) rotate(-90)" x="0" y="0" font-size="8.56" font-weight="bold" textLength="6.98" lengthAdjust="spacingAndGlyphs" stroke="#000" stroke-width="0.35">vs</text>
<text transform="translate(265.6,285.52) rotate(-90)" x="0" y="0" font-size="8.56" font-weight="bold" textLength="31.69" lengthAdjust="spacingAndGlyphs" stroke="#000" stroke-width="0.35">baseline</text>
<text x="0.31" y="463.75" font-size="21.22" font-weight="bold" textLength="13.32" lengthAdjust="spacingAndGlyphs" stroke="#000" stroke-width="0.9">E</text>
<line x1="47.7" y1="454.74" x2="47.7" y2="624.12" stroke="#000" stroke-width="1.5"/>
<line x1="44.7" y1="454.74" x2="47.7" y2="454.74" stroke="#000" stroke-width="1.2"/>
<line x1="44.7" y1="473.56" x2="47.7" y2="473.56" stroke="#000" stroke-width="1.2"/>
<line x1="44.7" y1="492.38" x2="47.7" y2="492.38" stroke="#000" stroke-width="1.2"/>
<line x1="44.7" y1="511.2" x2="47.7" y2="511.2" stroke="#000" stroke-width="1.2"/>
<line x1="44.7" y1="530.02" x2="47.7" y2="530.02" stroke="#000" stroke-width="1.2"/>
<line x1="44.7" y1="548.84" x2="47.7" y2="548.84" stroke="#000" stroke-width="1.2"/>
<line x1="44.7" y1="567.66" x2="47.7" y2="567.66" stroke="#000" stroke-width="1.2"/>
<line x1="44.7" y1="586.48" x2="47.7" y2="586.48" stroke="#000" stroke-width="1.2"/>
<line x1="44.7" y1="605.3" x2="47.7" y2="605.3" stroke="#000" stroke-width="1.2"/>
<line x1="44.7" y1="624.12" x2="47.7" y2="624.12" stroke="#000" stroke-width="1.2"/>
<line x1="47.7" y1="511.2" x2="295.2" y2="511.2" stroke="#000" stroke-width="1.4"/>
<text x="42.14" y="454.94" font-size="7.27" font-weight="normal" text-anchor="end" textLength="8.9" lengthAdjust="spacingAndGlyphs" stroke="#000" stroke-width="0.4">15</text>
<text x="42.11" y="473.76" font-size="7.27" font-weight="normal" text-anchor="end" textLength="8.9" lengthAdjust="spacingAndGlyphs" stroke="#000" stroke-width="0.4">10</text>
<text x="42.14" y="492.58" font-size="7.27" font-weight="normal" text-anchor="end" textLength="4.45" lengthAdjust="spacingAndGlyphs" stroke="#000" stroke-width="0.4">5</text>
<text x="42.11" y="511.4" font-size="7.27" font-weight="normal" text-anchor="end" textLength="4.45" lengthAdjust="spacingAndGlyphs" stroke="#000" stroke-width="0.4">0</text>
<text x="42.14" y="530.22" font-size="7.27" font-weight="normal" text-anchor="end" textLength="7.11" lengthAdjust="spacingAndGlyphs" stroke="#000" stroke-width="0.4">-5</text>
<text x="42.11" y="549.04" font-size="7.27" font-weight="normal" text-anchor="end" textLength="11.56" lengthAdjust="spacingAndGlyphs" stroke="#000" stroke-width="0.4">-10</text>
<text x="42.14" y="567.86" font-size="7.27" font-weight="normal" text-anchor="end" textLength="11.56" lengthAdjust="spacingAndGlyphs" stroke="#000" stroke-width="0.4">-15</text>
<text x="42.11" y="586.68" font-size="7.27" font-weight="normal" text-anchor="end" textLength="11.56" lengthAdjust="spacingAndGlyphs" stroke="#000" stroke-width="0.4">-20</text>
<text x="42.14" y="605.5" font-size="7.27" font-weight="normal" text-anchor="end" textLength="11.56" lengthAdjust="spacingAndGlyphs" stroke="#000" stroke-width="0.4">-25</text>
<text x="42.11" y="624.32" font-size="7.27" font-weight="normal" text-anchor="end" textLength="11.56" lengthAdjust="spacingAndGlyphs" stroke="#000" stroke-width="0.4">-30</text>
<text x="61.11" y="455" font-size="8.43" font-weight="bold" textLength="15.17" lengthAdjust="spacingAndGlyphs" stroke="#000" stroke-width="0.15">AST</text>
<text x="97.71" y="455" font-size="8.43" font-weight="bold" textLength="14.67" lengthAdjust="spacingAndGlyphs" stroke="#000" stroke-width="0.15">ALT</text>
<text x="142.38" y="455" font-size="8.43" font-weight="bold" textLength="15.4" lengthAdjust="spacingAndGlyphs" stroke="#000" stroke-width="0.15">gGT</text>
<text x="176.7" y="455" font-size="8.43" font-weight="bold" textLength="16.28" lengthAdjust="spacingAndGlyphs" stroke="#000" stroke-width="0.15">ALP</text>
<text x="204.3" y="455" font-size="8.43" font-weight="bold" textLength="38.87" lengthAdjust="spacingAndGlyphs" stroke="#000" stroke-width="0.15">Fibrinogen</text>
<text x="253.7" y="455" font-size="8.43" font-weight="bold" textLength="43.87" lengthAdjust="spacingAndGlyphs" stroke="#000" stroke-width="0.15">Haptoglobin</text>
<line x1="56.75" y1="524" x2="56.75" y2="537.17" stroke="#000" stroke-width="1.5"/>
<line x1="54.25" y1="537.17" x2="59.25" y2="537.17" stroke="#000" stroke-width="1.5"/>
<rect x="53.1" y="511.2" width="7.3" height="12.8" fill="#fff" stroke="#000" stroke-width="1.4"/>
<rect x="56.6" y="513.85" width="1.1" height="1.1" fill="#333"/>
<line x1="64.45" y1="526.63" x2="64.45" y2="534.91" stroke="#000" stroke-width="1.5"/>
<line x1="61.95" y1="534.91" x2="66.95" y2="534.91" stroke="#000" stroke-width="1.5"/>
<rect x="60.4" y="511.2" width="8.1" height="15.43" fill="#a4a4a4" stroke="#000" stroke-width="1.4"/>
<line x1="74.65" y1="518.35" x2="74.65" y2="534.91" stroke="#000" stroke-width="1.5"/>
<line x1="72.15" y1="534.91" x2="77.15" y2="534.91" stroke="#000" stroke-width="1.5"/>
<rect x="71" y="511.2" width="7.3" height="7.15" fill="url(#hatch)" stroke="#000" stroke-width="1.4"/>
<line x1="82.05" y1="501.04" x2="82.05" y2="485.98" stroke="#000" stroke-width="1.5"/>
<line x1="79.55" y1="485.98" x2="84.55" y2="485.98" stroke="#000" stroke-width="1.5"/>
<rect x="78.3" y="501.04" width="7.5" height="10.16" fill="#fff" stroke="#000" stroke-width="1.4"/>
<line x1="97.5" y1="507.44" x2="97.5" y2="485.98" stroke="#000" stroke-width="1.5"/>
<line x1="95" y1="485.98" x2="100" y2="485.98" stroke="#000" stroke-width="1.5"/>
<rect x="93.7" y="507.44" width="7.6" height="3.76" fill="#fff" stroke="#000" stroke-width="1.4"/>
<rect x="97.35" y="508.77" width="1.1" height="1.1" fill="#333"/>
<line x1="105" y1="562.01" x2="105" y2="576.32" stroke="#000" stroke-width="1.5"/>
<line x1="102.5" y1="576.32" x2="107.5" y2="576.32" stroke="#000" stroke-width="1.5"/>
<rect x="101.3" y="511.2" width="7.4" height="50.81" fill="#a4a4a4" stroke="#000" stroke-width="1.4"/>
<circle cx="102.95" cy="582.6" r="1.5"/>
<circle cx="107.05" cy="582.6" r="1.5"/>
<line x1="115.95" y1="500.28" x2="115.95" y2="473.56" stroke="#000" stroke-width="1.5"/>
<line x1="113.45" y1="473.56" x2="118.45" y2="473.56" stroke="#000" stroke-width="1.5"/>
<rect x="112.3" y="500.28" width="7.3" height="10.92" fill="url(#hatch)" stroke="#000" stroke-width="1.4"/>
<line x1="123.15" y1="511.58" x2="123.15" y2="539.05" stroke="#000" stroke-width="1.5"/>
<line x1="120.65" y1="539.05" x2="125.65" y2="539.05" stroke="#000" stroke-width="1.5"/>
<line x1="119.6" y1="511.2" x2="126.7" y2="511.2" stroke="#000" stroke-width="1.4"/>
<line x1="139" y1="522.49" x2="139" y2="535.67" stroke="#000" stroke-width="1.5"/>
<line x1="136.5" y1="535.67" x2="141.5" y2="535.67" stroke="#000" stroke-width="1.5"/>
<rect x="135.4" y="511.2" width="7.2" height="11.29" fill="#fff" stroke="#000" stroke-width="1.4"/>
<rect x="138.85" y="513.85" width="1.1" height="1.1" fill="#333"/>
<line x1="146.75" y1="598.15" x2="146.75" y2="607.56" stroke="#000" stroke-width="1.5"/>
<line x1="144.25" y1="607.56" x2="149.25" y2="607.56" stroke="#000" stroke-width="1.5"/>
<rect x="142.6" y="511.2" width="8.3" height="86.95" fill="#a4a4a4" stroke="#000" stroke-width="1.4"/>
<circle cx="142.65" cy="613" r="1.5"/>
<circle cx="146.75" cy="613" r="1.5"/>
<circle cx="150.85" cy="613" r="1.5"/>
<line x1="156.3" y1="519.86" x2="156.3" y2="542.44" stroke="#000" stroke-width="1.5"/>
<line x1="153.8" y1="542.44" x2="158.8" y2="542.44" stroke="#000" stroke-width="1.5"/>
<rect x="153.2" y="511.2" width="6.2" height="8.66" fill="url(#hatch)" stroke="#000" stroke-width="1.4"/>
<line x1="163.7" y1="582.72" x2="163.7" y2="604.92" stroke="#000" stroke-width="1.5"/>
<line x1="161.2" y1="604.92" x2="166.2" y2="604.92" stroke="#000" stroke-width="1.5"/>
<rect x="159.4" y="511.2" width="8.6" height="71.52" fill="#fff" stroke="#000" stroke-width="1.4"/>
<circle cx="161.65" cy="610" r="1.5"/>
<circle cx="165.75" cy="610" r="1.5"/>
<line x1="179.85" y1="517.98" x2="179.85" y2="525.13" stroke="#000" stroke-width="1.5"/>
<line x1="177.35" y1="525.13" x2="182.35" y2="525.13" stroke="#000" stroke-width="1.5"/>
<rect x="176" y="511.2" width="7.7" height="6.78" fill="#fff" stroke="#000" stroke-width="1.4"/>
<rect x="179.7" y="514.04" width="1.1" height="1.1" fill="#333"/>
<line x1="187.45" y1="580.08" x2="187.45" y2="584.22" stroke="#000" stroke-width="1.5"/>
<line x1="184.95" y1="584.22" x2="189.95" y2="584.22" stroke="#000" stroke-width="1.5"/>
<rect x="183.7" y="511.2" width="7.5" height="68.88" fill="#a4a4a4" stroke="#000" stroke-width="1.4"/>
<circle cx="183.35" cy="589.6" r="1.5"/>
<circle cx="187.45" cy="589.6" r="1.5"/>
<circle cx="191.55" cy="589.6" r="1.5"/>
<line x1="196.5" y1="509.69" x2="196.5" y2="502.92" stroke="#000" stroke-width="1.5"/>
<line x1="194" y1="502.92" x2="199" y2="502.92" stroke="#000" stroke-width="1.5"/>
<rect x="192.3" y="509.69" width="8.4" height="1.51" fill="url(#hatch)" stroke="#000" stroke-width="1.4"/>
<line x1="204.2" y1="602.67" x2="204.2" y2="609.06" stroke="#000" stroke-width="1.5"/>
<line x1="201.7" y1="609.06" x2="206.7" y2="609.06" stroke="#000" stroke-width="1.5"/>
<rect x="200.7" y="511.2" width="7" height="91.47" fill="#fff" stroke="#000" stroke-width="1.4"/>
<circle cx="200.1" cy="614" r="1.5"/>
<circle cx="204.2" cy="614" r="1.5"/>
<circle cx="208.3" cy="614" r="1.5"/>
<line x1="219.3" y1="516.47" x2="219.3" y2="527.76" stroke="#000" stroke-width="1.5"/>
<line x1="216.8" y1="527.76" x2="221.8" y2="527.76" stroke="#000" stroke-width="1.5"/>
<rect x="215.4" y="511.2" width="7.8" height="5.27" fill="#fff" stroke="#000" stroke-width="1.4"/>
<rect x="219.15" y="513.28" width="1.1" height="1.1" fill="#333"/>
<line x1="227" y1="551.47" x2="227" y2="556.74" stroke="#000" stroke-width="1.5"/>
<line x1="224.5" y1="556.74" x2="229.5" y2="556.74" stroke="#000" stroke-width="1.5"/>
<rect x="223.2" y="511.2" width="7.6" height="40.27" fill="#a4a4a4" stroke="#000" stroke-width="1.4"/>
<circle cx="224.95" cy="562.5" r="1.5"/>
<circle cx="229.05" cy="562.5" r="1.5"/>
<line x1="238.05" y1="493.89" x2="238.05" y2="482.59" stroke="#000" stroke-width="1.5"/>
<line x1="235.55" y1="482.59" x2="240.55" y2="482.59" stroke="#000" stroke-width="1.5"/>
<rect x="234.2" y="493.89" width="7.7" height="17.31" fill="url(#hatch)" stroke="#000" stroke-width="1.4"/>
<line x1="245.2" y1="531.15" x2="245.2" y2="543.19" stroke="#000" stroke-width="1.5"/>
<line x1="242.7" y1="543.19" x2="247.7" y2="543.19" stroke="#000" stroke-width="1.5"/>
<rect x="241.9" y="511.2" width="6.6" height="19.95" fill="#fff" stroke="#000" stroke-width="1.4"/>
<circle cx="245.2" cy="548.1" r="1.5"/>
<line x1="264.2" y1="519.86" x2="264.2" y2="534.91" stroke="#000" stroke-width="1.5"/>
<line x1="261.7" y1="534.91" x2="266.7" y2="534.91" stroke="#000" stroke-width="1.5"/>
<rect x="260.8" y="511.2" width="6.8" height="8.66" fill="#fff" stroke="#000" stroke-width="1.4"/>
<rect x="264.05" y="514.98" width="1.1" height="1.1" fill="#333"/>
<line x1="271.4" y1="563.9" x2="271.4" y2="573.68" stroke="#000" stroke-width="1.5"/>
<line x1="268.9" y1="573.68" x2="273.9" y2="573.68" stroke="#000" stroke-width="1.5"/>
<rect x="267.6" y="511.2" width="7.6" height="52.7" fill="#a4a4a4" stroke="#000" stroke-width="1.4"/>
<circle cx="269.35" cy="578.5" r="1.5"/>
<circle cx="273.45" cy="578.5" r="1.5"/>
<line x1="284.2" y1="483.72" x2="284.2" y2="466.78" stroke="#000" stroke-width="1.5"/>
<line x1="281.7" y1="466.78" x2="286.7" y2="466.78" stroke="#000" stroke-width="1.5"/>
<rect x="280.4" y="483.72" width="7.6" height="27.48" fill="url(#hatch)" stroke="#000" stroke-width="1.4"/>
<line x1="291.5" y1="543.19" x2="291.5" y2="559.76" stroke="#000" stroke-width="1.5"/>
<line x1="289" y1="559.76" x2="294" y2="559.76" stroke="#000" stroke-width="1.5"/>
<rect x="288" y="511.2" width="7" height="31.99" fill="#fff" stroke="#000" stroke-width="1.4"/>
<circle cx="287.4" cy="566.3" r="1.5"/>
<circle cx="291.5" cy="566.3" r="1.5"/>
<circle cx="295.6" cy="566.3" r="1.5"/>
<rect x="52.3" y="606.8" width="5.2" height="6.4" fill="#fff" stroke="#000" stroke-width="1.6"/>
<rect x="54.6" y="610.8" width="1.1" height="1.1" fill="#333"/>
<text x="59.85" y="613.3" font-size="9.02" font-weight="bold" textLength="24.78" lengthAdjust="spacingAndGlyphs" stroke="#000" stroke-width="0.15">PCB-1</text>
<rect x="89.6" y="606.8" width="5" height="6.4" fill="#a4a4a4" stroke="#000" stroke-width="1.6"/>
<text x="96.97" y="613.3" font-size="9.02" font-weight="bold" textLength="37.06" lengthAdjust="spacingAndGlyphs" stroke="#000" stroke-width="0.15">GFT505-1</text>
<rect x="52.3" y="623.4" width="5.2" height="6.4" fill="url(#hatch)" stroke="#000" stroke-width="1.6"/>
<text x="59.85" y="629.6" font-size="8.74" font-weight="bold" textLength="24.89" lengthAdjust="spacingAndGlyphs" stroke="#000" stroke-width="0.15">PCB-2</text>
<rect x="90.2" y="623.4" width="4.4" height="6.4" fill="#fff" stroke="#000" stroke-width="1.6"/>
<text x="98.87" y="629.6" font-size="8.74" font-weight="bold" textLength="36.86" lengthAdjust="spacingAndGlyphs" stroke="#000" stroke-width="0.15">GFT505-2</text>
<text transform="translate(25.1,584.6) rotate(-90)" x="0" y="0" font-size="8.69" font-weight="bold" textLength="7" lengthAdjust="spacingAndGlyphs" stroke="#000" stroke-width="0.35">%</text>
<text transform="translate(25.1,576.25) rotate(-90)" x="0" y="0" font-size="8.69" font-weight="bold" textLength="7.73" lengthAdjust="spacingAndGlyphs" stroke="#000" stroke-width="0.35">ls</text>
<text transform="translate(25.1,566.6) rotate(-90)" x="0" y="0" font-size="8.69" font-weight="bold" textLength="24.11" lengthAdjust="spacingAndGlyphs" stroke="#000" stroke-width="0.35">means</text>
<text transform="translate(25.1,541.43) rotate(-90)" x="0" y="0" font-size="8.69" font-weight="bold" textLength="29.72" lengthAdjust="spacingAndGlyphs" stroke="#000" stroke-width="0.35">change</text>
<text transform="translate(25.1,508.92) rotate(-90)" x="0" y="0" font-size="8.69" font-weight="bold" textLength="6.46" lengthAdjust="spacingAndGlyphs" stroke="#000" stroke-width="0.35">vs</text>
<text transform="translate(25.1,500.12) rotate(-90)" x="0" y="0" font-size="8.69" font-weight="bold" textLength="31.69" lengthAdjust="spacingAndGlyphs" stroke="#000" stroke-width="0.35">baseline</text>
</svg>
</body></html>
